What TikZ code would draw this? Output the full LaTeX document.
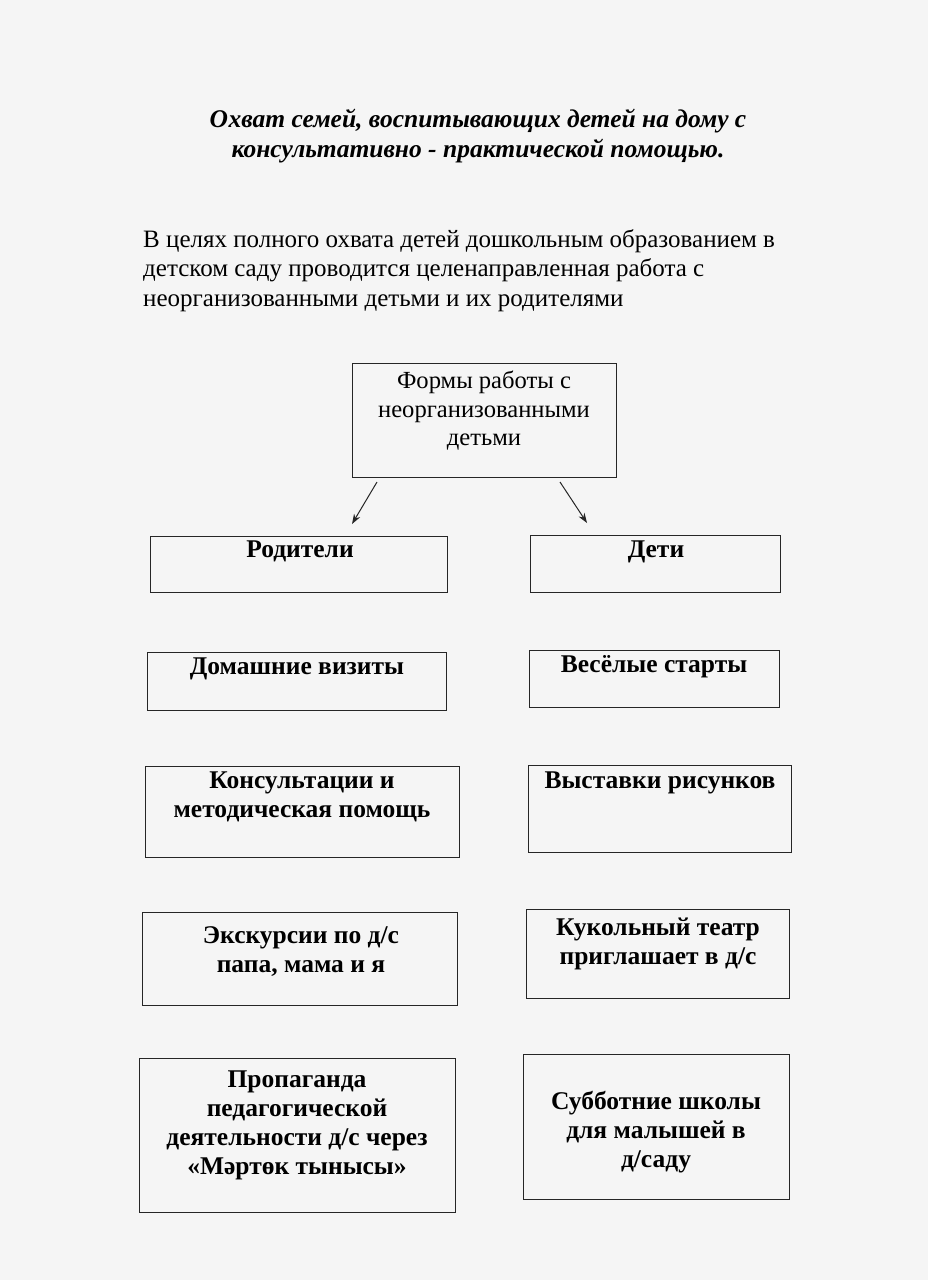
\documentclass[tikz,border=0pt]{standalone}
\usepackage{fontspec}
\setmainfont{Liberation Serif}
\usetikzlibrary{arrows.meta}
\begin{document}
\begin{tikzpicture}[x=1pt,y=-1pt,
  box/.style={draw=black!85, line width=1.3pt, rectangle, inner sep=0pt, anchor=north west},
  btxt/.style={anchor=north, align=center, inner sep=0pt, font=\fontsize{25.5}{29}\selectfont\bfseries},
  rtxt/.style={anchor=north, align=center, inner sep=0pt, font=\fontsize{24.6}{28.5}\selectfont},
  arr/.style={-{Stealth[length=10pt,width=7pt]}, line width=1pt, black!85}]
\fill[black!4] (0,0) rectangle (928,1280);
\useasboundingbox (0,0) rectangle (928,1280);
% title
\node[anchor=north, align=center, inner sep=0pt, font=\fontsize{25.5}{30}\selectfont\bfseries\itshape] (title) at (478,109)
  {Охват семей, воспитывающих детей на дому с\\консультативно - практической помощью.};
\node[anchor=north west, align=left, inner sep=0pt, font=\fontsize{25}{29.5}\selectfont] (para) at (143,229)
  {В целях полного охвата детей дошкольным образованием в\\детском саду проводится целенаправленная работа с\\неорганизованными детьми и их родителями};
% top box
\node[box, minimum width=264pt, minimum height=114pt] (forms) at (352,363) {};
\node[rtxt] (formst) at (484,371) {Формы работы с\\неорганизованными\\детьми};
% row 1
\node[box, minimum width=297pt, minimum height=56pt] (rod) at (150,536) {};
\node[btxt] at (300,541) {Родители};
\node[box, minimum width=250pt, minimum height=57pt] (det) at (530,535) {};
\node[btxt] at (656,541) {Дети};
% row 2
\node[box, minimum width=299pt, minimum height=58pt] (dom) at (147,652) {};
\node[btxt] at (297,658) {Домашние визиты};
\node[box, minimum width=250pt, minimum height=57pt] (ves) at (529,650) {};
\node[btxt] at (654,655) {Весёлые старты};
% row 3
\node[box, minimum width=314pt, minimum height=91pt] (kon) at (145,766) {};
\node[btxt] at (302,772) {Консультации и\\методическая помощь};
\node[box, minimum width=263pt, minimum height=87pt] (vys) at (528,765) {};
\node[btxt] at (660,772) {Выставки рисунков};
% row 4
\node[box, minimum width=315pt, minimum height=93pt] (eks) at (142,912) {};
\node[btxt] at (301,926) {Экскурсии по д/с\\папа, мама и я};
\node[box, minimum width=263pt, minimum height=89pt] (kuk) at (526,909) {};
\node[btxt] at (658,918) {Кукольный театр\\приглашает в д/с};
% row 5
\node[box, minimum width=316pt, minimum height=154pt] (pro) at (139,1058) {};
\node[btxt] at (297,1071) {Пропаганда\\педагогической\\деятельности д/с через\\«Мәртөк тынысы»};
\node[box, minimum width=266pt, minimum height=145pt] (sub) at (523,1054) {};
\node[btxt] at (656,1091) {Субботние школы\\для малышей в\\д/саду};
% arrows
\coordinate (a1) at (377,482);
\coordinate (a2) at (560,482);
\coordinate (b1) at (352,524);
\coordinate (b2) at (587,523);
\draw[arr] (a1) -- (b1);
\draw[arr] (a2) -- (b2);
\end{tikzpicture}
\end{document}
